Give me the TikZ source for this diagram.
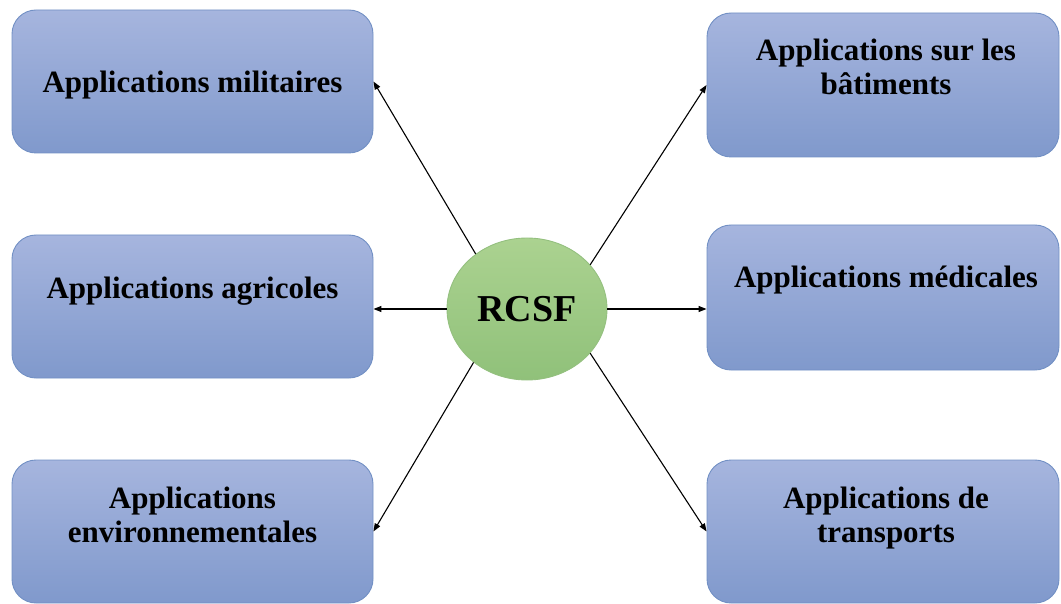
\documentclass[tikz,border=0pt]{standalone}
\usepackage{fontspec}
\setmainfont{Liberation Serif}
\usetikzlibrary{arrows.meta,shapes.geometric}

\definecolor{boxtop}{HTML}{A6B5DE}
\definecolor{boxbot}{HTML}{8099CC}
\definecolor{boxline}{HTML}{7290C4}
\definecolor{elltop}{HTML}{ABD290}
\definecolor{ellbot}{HTML}{90C17A}
\definecolor{ellline}{HTML}{94C07F}

\tikzset{
  appbox/.style={draw=boxline, line width=0.9pt, rounded corners=24pt,
    top color=boxtop, bottom color=boxbot, inner sep=0pt},
  apptext/.style={font=\fontsize{31}{34}\selectfont\bfseries, align=center,
    inner sep=0pt, anchor=base},
  link/.style={-{Triangle[length=8pt,width=6pt]}, line width=1.1pt}
}

\begin{document}
\begin{tikzpicture}[x=1pt,y=-1pt]
\useasboundingbox (0,0) rectangle (1061,604);

\foreach \n/\x/\ya/\yb/\w in {mil/192.5/10/153/361, agr/192.5/235/378/361, env/192.5/460/603/361,
  bat/883/13/157/352, med/883/225/370/352, tra/883/460/603/352}
{
  \node[appbox, minimum width=\w pt, minimum height={(\yb-\ya)*1pt}] (\n) at (\x,{(\ya+\yb)/2}) {};
}

\node[apptext] (mil-t) at (192.5,93) {Applications militaires};
\node[apptext] (agr-t) at (192.5,299) {Applications agricoles};
\node[apptext] (env-t) at (192.5,542) {Applications\\environnementales};
\node[apptext] (bat-t) at (886,95) {Applications sur les\\bâtiments};
\node[apptext] (med-t) at (886,288) {Applications médicales};
\node[apptext] (tra-t) at (886,542) {Applications de\\transports};

\node[ellipse, draw=ellline, line width=0.9pt, top color=elltop, bottom color=ellbot,
  minimum width=160pt, minimum height=142pt, inner sep=0pt,
  font=\fontsize{38}{40}\selectfont\bfseries] (rcsf) at (527,309) {RCSF};

\draw[link] (rcsf.133) -- (mil.east);
\draw[link] (rcsf.west) -- (rcsf.west -| agr.east);
\draw[link] (rcsf.225) -- (env.east);
\draw[link] (rcsf.35) -- (bat.west);
\draw[link] (rcsf.east) -- (rcsf.east -| med.west);
\draw[link] (rcsf.-35) -- (tra.west);
\end{tikzpicture}
\end{document}
